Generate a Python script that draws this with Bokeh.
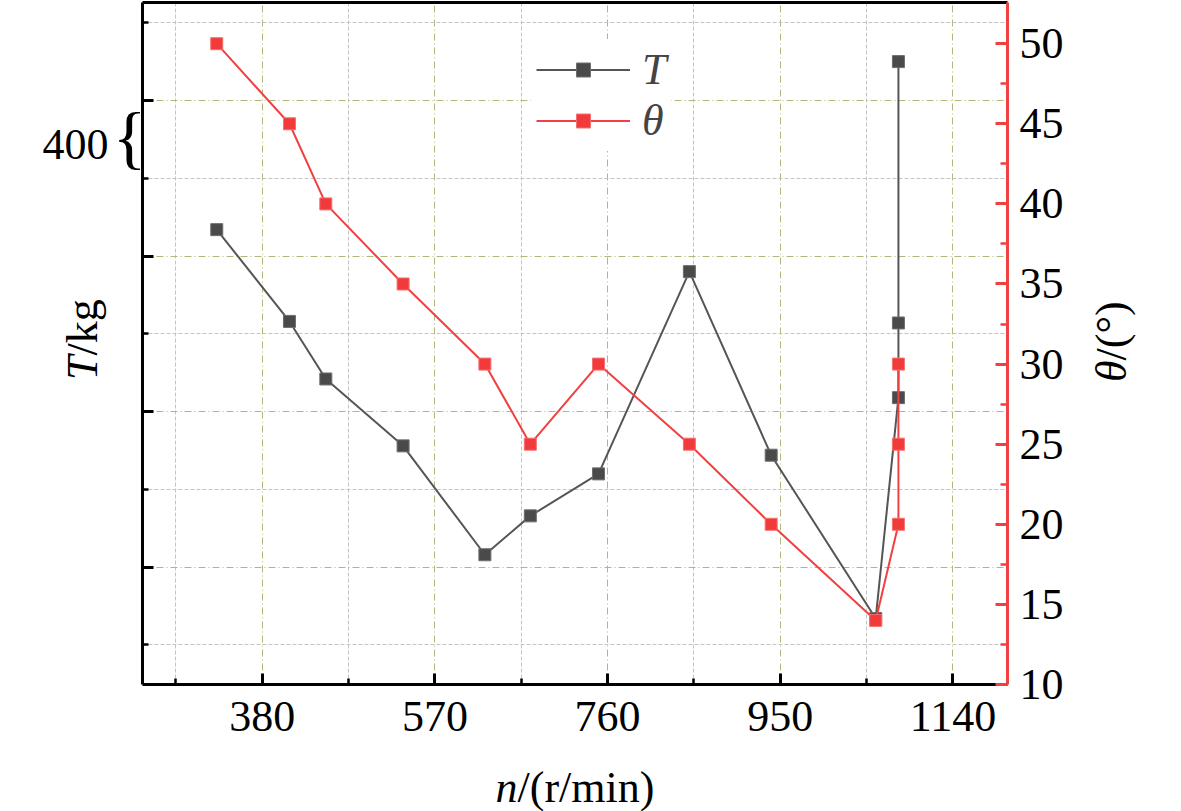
import numpy as np
from bokeh.plotting import figure
from bokeh.models import (Range1d, LinearAxis, FixedTicker, Label, Legend,
                          LegendItem)
from bokeh.embed import file_html
from bokeh.resources import INLINE

# ---------------- data ----------------
n_T = [330, 410, 450, 535, 625, 675, 750, 850, 940, 1055, 1080, 1080, 1080]
T_kg = [317, 258, 221, 178, 108, 133, 160, 290, 172, 67, 209, 257, 425]

n_theta = [330, 410, 450, 535, 625, 675, 750, 850, 940, 1055, 1080, 1080, 1080]
theta_deg = [50, 45, 40, 35, 30, 25, 30, 25, 20, 14, 20, 25, 30]

x_major = [380, 570, 760, 950, 1140]
x_minor = [285, 475, 665, 855, 1045]
T_major = [100, 200, 300, 400]
T_minor = [50, 150, 250, 350, 450]
theta_major = [10, 15, 20, 25, 30, 35, 40, 45, 50]
theta_minor = [12.5, 17.5, 22.5, 27.5, 32.5, 37.5, 42.5, 47.5]

x_title_italic = "n"
x_title_rest = "/(r/min)"
yl_title_italic = "T"
yl_title_rest = "/kg"
yr_title_italic = "θ"
yr_title_rest = "/(°)"
T_tick_text = "400"
brace_text = "{"

FONT = "Liberation Serif"
FS = "44px"
RED = "#f04040"
OLIVE = "#b5b57e"
GRAY = "#c4c4c4"

p = figure(frame_width=865, frame_height=682,
           min_border_left=142, min_border_right=153,
           min_border_top=2, min_border_bottom=126,
           x_range=Range1d(248.3, 1200), y_range=Range1d(24.6, 463.0),
           output_backend="svg", toolbar_location=None)
p.extra_y_ranges = {"theta": Range1d(10, 52.57)}
p.background_fill_color = "white"
p.border_fill_color = "white"
p.outline_line_color = None

# bottom axis
xa = p.xaxis[0]
xa.ticker = FixedTicker(ticks=x_major, minor_ticks=x_minor)
# left axis
ya = p.yaxis[0]
ya.ticker = FixedTicker(ticks=T_major, minor_ticks=T_minor)
ya.major_label_overrides = {v: "" for v in T_major}

for ax in (xa, ya):
    ax.axis_line_color = "black"
    ax.axis_line_width = 3
    ax.major_tick_line_color = "black"
    ax.major_tick_line_width = 3
    ax.minor_tick_line_color = "black"
    ax.minor_tick_line_width = 2.5
    ax.major_tick_in = 11
    ax.major_tick_out = 0
    ax.minor_tick_in = 6
    ax.minor_tick_out = 0
    ax.major_label_text_font = FONT
    ax.major_label_text_font_size = FS
    ax.major_label_text_color = "black"
xa.major_label_standoff = 17

# right axis (theta)
ra = LinearAxis(y_range_name="theta",
                ticker=FixedTicker(ticks=theta_major, minor_ticks=theta_minor))
ra.axis_line_color = RED
ra.axis_line_width = 3
ra.major_tick_line_color = RED
ra.major_tick_line_width = 3
ra.minor_tick_line_color = RED
ra.minor_tick_line_width = 2.5
ra.major_tick_in = 12
ra.major_tick_out = 0
ra.minor_tick_in = 7
ra.minor_tick_out = 0
ra.major_label_text_font = FONT
ra.major_label_text_font_size = FS
ra.major_label_text_color = "black"
ra.major_label_standoff = 12
p.add_layout(ra, "right")

# top border as an empty axis
ta = LinearAxis(ticker=FixedTicker(ticks=[]))
ta.axis_line_color = "black"
ta.axis_line_width = 3
ta.major_tick_line_color = None
ta.minor_tick_line_color = None
ta.major_tick_out = 0
ta.minor_tick_out = 0
ta.major_label_standoff = 0
ta.major_label_text_font_size = "0px"
p.add_layout(ta, "above")

# grids
for g in (p.xgrid[0], p.ygrid[0]):
    g.grid_line_color = OLIVE
    g.grid_line_width = 1
    g.grid_line_dash = "7 3 1 3"
    g.minor_grid_line_color = GRAY
    g.minor_grid_line_width = 1
    g.minor_grid_line_dash = "4 2"
p.xgrid[0].ticker = xa.ticker
p.ygrid[0].ticker = ya.ticker

# series
rT_line = p.line(n_T, T_kg, line_color="#555555", line_width=2)
rT_pts = p.scatter(n_T, T_kg, marker="square", size=12,
                   fill_color="#4a4a4a", line_color="#6e6e6e", line_width=1)
rq_line = p.line(n_theta, theta_deg, y_range_name="theta",
                 line_color=RED, line_width=2)
rq_pts = p.scatter(n_theta, theta_deg, y_range_name="theta", marker="square",
                   size=12, fill_color="#f23a3a", line_color="#f57070", line_width=1)

legend = Legend(items=[LegendItem(label="T", renderers=[rT_line, rT_pts]),
                       LegendItem(label="θ", renderers=[rq_line, rq_pts])],
                location=(389, 533), padding=5, margin=0, spacing=-5,
                glyph_width=94, glyph_height=35, label_height=35,
                label_standoff=12, label_text_font=FONT,
                label_text_font_size=FS, label_text_font_style="italic",
                background_fill_color="white", background_fill_alpha=1,
                border_line_alpha=0)
p.add_layout(legend)

# axis titles (mixed italic / upright), placed in canvas pixels in a side panel
def lab(text, x, y, align, italic=False, angle=0.0, size=FS):
    p.add_layout(Label(x=x, y=y, x_units="canvas", y_units="canvas", text=text,
                       text_align=align, text_baseline="alphabetic", angle=angle,
                       text_font=FONT, text_font_size=size,
                       text_font_style="italic" if italic else "normal",
                       text_color="black"), "below")

lab(x_title_italic, 517, 787, "right", italic=True)
lab(x_title_rest, 517, 787, "left")
lab(yl_title_italic, 82, 355, "right", italic=True, angle=np.pi / 2)
lab(yl_title_rest, 82, 355, "left", angle=np.pi / 2)
lab(yr_title_italic, 1111, 360, "right", italic=True, angle=np.pi / 2)
lab(yr_title_rest, 1111, 360, "left", angle=np.pi / 2)
lab(T_tick_text, 108, 144, "right")
lab(brace_text, 129, 137, "center", size="70px")

open("out.html", "w").write(file_html(p, INLINE))
